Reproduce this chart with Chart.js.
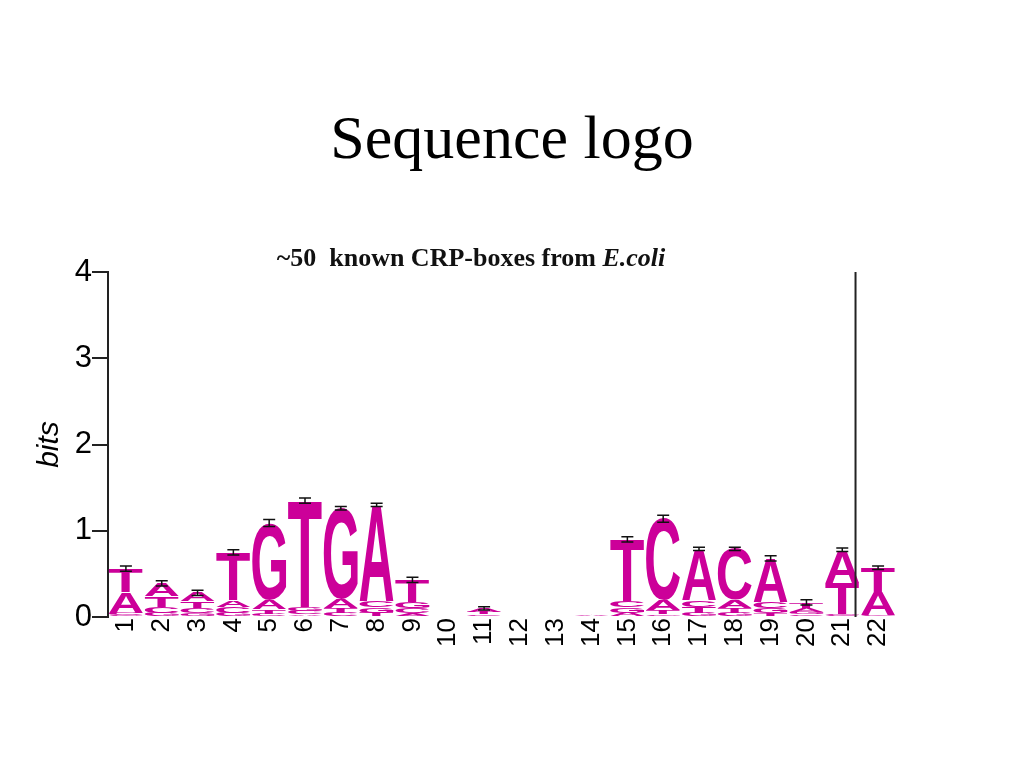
<!DOCTYPE html>
<html>
<head>
<meta charset="utf-8">
<title>Sequence logo</title>
<script src="https://cdn.jsdelivr.net/npm/chart.js@4.4.1/dist/chart.umd.min.js"></script>
<style>
body { margin: 0; background: #fff; }
#wrap { position: relative; width: 1024px; height: 768px; overflow: hidden; }
#logo { position: absolute; left: 0; top: 0; }
#title { position: absolute; left: 0; top: 106px; width: 1024px; text-align: center;
  font: 62px/62px "Liberation Serif", "Times New Roman", serif; color: #000; }
#sub { position: absolute; left: 0; top: 245px; width: 942px; text-align: center; white-space: nowrap;
  font: bold 26px/26px "Liberation Serif", "Times New Roman", serif; color: #111; }
</style>
</head>
<body>
<div id="wrap">
  <canvas id="logo" width="1024" height="768"></canvas>
  <div id="title">Sequence logo</div>
  <div id="sub">~50&nbsp; known CRP-boxes from <i>E.coli</i></div>
</div>
<script>
// positions along the CRP box
const positions = ['1','2','3','4','5','6','7','8','9','10','11','12','13','14','15','16','17','18','19','20','21','22'];

// information (bits) carried by each base at each position
const bitsA = [0.24,0.15,0.10,0.08,0.11,0.03,0.10,1.12,0.04,0,0.04,0,0,0.02,0.05,0.12,0.59,0.09,0.51,0.05,0.38,0.27];
const bitsC = [0.03,0.07,0.06,0.07,0.04,0.04,0.05,0.07,0.06,0,0.02,0,0,0.01,0.07,0.94,0.08,0.59,0.07,0.03,0.02,0.01];
const bitsG = [0.02,0.05,0.04,0.05,0.89,0.05,1.05,0.06,0.07,0,0.01,0,0,0,0.06,0.03,0.05,0.05,0.06,0.03,0.02,0.01];
const bitsT = [0.27,0.12,0.08,0.55,0.05,1.23,0.06,0.05,0.26,0,0.03,0,0,0,0.72,0.05,0.07,0.06,0.04,0.06,0.36,0.28];

// small-sample error bar at top of each stack
const errBits = [0.03,0.03,0.03,0.03,0.04,0.03,0.02,0.02,0.03,0,0.02,0,0,0,0.03,0.04,0.02,0.02,0.03,0.03,0.02,0.02];

const yTicks = [0, 1, 2, 3, 4];

const letterColor = '#cc0099';
const axisColor = '#222';
const splitAt = 0.37; // where the right-hand frame line sits between 21 and 22

const bases = ['A', 'C', 'G', 'T'];
const table = [bitsA, bitsC, bitsG, bitsT];

// smallest letter at the bottom, biggest on top
const ranked = positions.map((p, i) =>
  bases.map((b, k) => ({ b: b, v: table[k][i] })).sort((a, c) => a.v - c.v)
);

const datasets = [0, 1, 2, 3].map(r => ({
  data: ranked.map(col => col[r].v),
  letters: ranked.map(col => col[r].b),
  backgroundColor: 'rgba(0,0,0,0)',
  borderWidth: 0,
  barPercentage: 0.95,
  categoryPercentage: 1,
  stack: 'logo'
}));

const logoLetters = {
  id: 'logoLetters',
  afterDatasetsDraw(chart) {
    const ctx = chart.ctx;
    const xs = chart.scales.x, ys = chart.scales.y;
    ctx.save();
    ctx.fillStyle = letterColor;
    ctx.font = 'bold 100px "Liberation Sans", Arial, sans-serif';
    ctx.textAlign = 'left';
    ctx.textBaseline = 'alphabetic';
    chart.data.datasets.forEach((ds, d) => {
      chart.getDatasetMeta(d).data.forEach((bar, i) => {
        const h = bar.base - bar.y;
        if (h < 0.6) return;
        const ch = ds.letters[i];
        const m = ctx.measureText(ch);
        const gw = m.actualBoundingBoxLeft + m.actualBoundingBoxRight;
        const gh = m.actualBoundingBoxAscent + m.actualBoundingBoxDescent;
        ctx.save();
        ctx.translate(bar.x - bar.width / 2, bar.y);
        ctx.scale(bar.width / gw, h / gh);
        ctx.fillText(ch, m.actualBoundingBoxLeft, m.actualBoundingBoxAscent);
        ctx.restore();
      });
    });

    // error bars
    ctx.strokeStyle = '#111';
    ctx.lineWidth = 1.5;
    positions.forEach((p, i) => {
      if (!errBits[i]) return;
      const total = bitsA[i] + bitsC[i] + bitsG[i] + bitsT[i];
      const x = xs.getPixelForValue(i);
      const y = ys.getPixelForValue(total);
      const e = ys.getPixelForValue(0) - ys.getPixelForValue(errBits[i]);
      ctx.beginPath();
      ctx.moveTo(x, y - e); ctx.lineTo(x, y + e);
      ctx.moveTo(x - 6, y - e); ctx.lineTo(x + 6, y - e);
      ctx.moveTo(x - 6, y + e); ctx.lineTo(x + 6, y + e);
      ctx.stroke();
    });

    // right frame line
    const lx = xs.getPixelForValue(20) + splitAt * (xs.getPixelForValue(21) - xs.getPixelForValue(20));
    ctx.strokeStyle = axisColor;
    ctx.lineWidth = 2;
    ctx.beginPath();
    ctx.moveTo(lx, ys.getPixelForValue(yTicks[yTicks.length - 1]));
    ctx.lineTo(lx, ys.getPixelForValue(0));
    ctx.stroke();
    ctx.restore();
  }
};

const ctx = document.getElementById('logo').getContext('2d');
const chart = new Chart(ctx, {
  type: 'bar',
  data: { labels: positions, datasets: datasets },
  options: {
    responsive: false,
    animation: false,
    layout: { padding: { top: 272, right: 128, bottom: 0, left: 0 } },
    plugins: { legend: { display: false }, tooltip: { enabled: false } },
    scales: {
      x: {
        stacked: true,
        afterFit: s => { s.height = 151; },
        grid: { display: false, drawTicks: false },
        border: { display: false },
        ticks: {
          minRotation: 90, maxRotation: 90, padding: 1, color: '#000',
          font: { family: '"Liberation Sans", Arial, sans-serif', size: 26 }
        }
      },
      y: {
        stacked: true,
        min: 0,
        max: 4,
        afterFit: s => { s.width = 108; },
        afterBuildTicks: s => { s.ticks = yTicks.map(v => ({ value: v })); },
        grid: { drawOnChartArea: false, drawTicks: true, tickLength: 16, color: axisColor, lineWidth: 2 },
        border: { display: true, color: axisColor, width: 2 },
        ticks: {
          padding: 0, color: '#000',
          font: { family: '"Liberation Sans", Arial, sans-serif', size: 31 }
        },
        title: {
          display: true, text: 'bits', color: '#000', padding: { top: 32, bottom: 0 },
          font: { family: '"Liberation Sans", Arial, sans-serif', size: 30, style: 'italic' }
        }
      }
    }
  },
  plugins: [logoLetters]
});
</script>
</body>
</html>
